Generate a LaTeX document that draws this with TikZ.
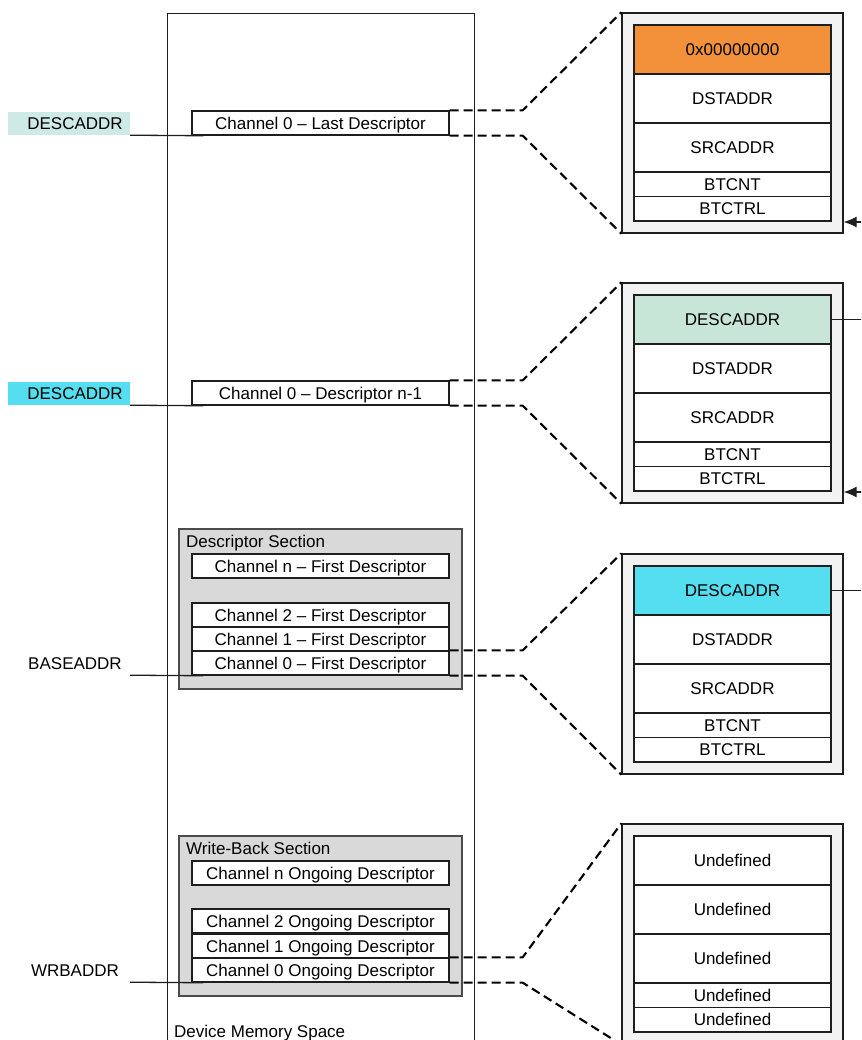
\documentclass[tikz,border=0pt]{standalone}
\usepackage{fontspec}
\setmainfont{Liberation Sans}
\usetikzlibrary{arrows.meta}
\definecolor{orng}{RGB}{242,145,57}
\definecolor{pgreen}{RGB}{200,230,216}
\definecolor{pteal}{RGB}{205,234,230}
\definecolor{cyn}{RGB}{85,222,240}
\definecolor{outerg}{RGB}{242,242,242}
\definecolor{sectg}{RGB}{217,217,217}
\definecolor{lnc}{RGB}{30,30,30}
\newcommand\memblk[8]{%
  \node[outerbox] (#1o) at (732.5,#2+98) {};
  \node[cell,fill=#3,minimum height=49pt] (#1a) at (732.5,#2+24.5) {#4};
  \node[cell,minimum height=49pt] (#1b) at (732.5,#2+73.5) {#5};
  \node[cell,minimum height=49pt] (#1c) at (732.5,#2+122.5) {#6};
  \node[cell,minimum height=24.5pt] (#1d) at (732.5,#2+159.25) {#7};
  \node[cell,minimum height=24.5pt] (#1e) at (732.5,#2+183.75) {#8};
}
\begin{document}
\begin{tikzpicture}[x=1pt,y=-1pt,
  every node/.style={font=\fontsize{17}{20}\selectfont, inner sep=0pt, text=black, text height=12.2pt, text depth=0pt},
  chan/.style={draw=lnc, line width=1.3pt, fill=white, minimum width=257pt, minimum height=24pt},
  sect/.style={draw=lnc!80, line width=1.3pt, fill=sectg, minimum width=283pt, minimum height=160pt},
  outerbox/.style={draw=lnc, line width=1.3pt, fill=outerg, minimum width=221pt, minimum height=220pt},
  cell/.style={draw=lnc, line width=1.3pt, fill=white, minimum width=197pt},
  lbl/.style={minimum width=122pt, minimum height=23pt},
  dsh/.style={line width=2.1pt, dash pattern=on 9pt off 5pt, black},
  thin/.style={draw=lnc, line width=1.3pt},
  arr/.style={thin, -{Latex[length=13pt,width=11pt]}}
]
\useasboundingbox (0,0) rectangle (861,1040);
\clip (0,0) rectangle (861,1040);
\fill[white] (0,0) rectangle (861,1040);

% device memory space
\node[draw=lnc, line width=1.3pt, minimum width=307pt, minimum height=1060pt, anchor=north west] (dev) at (167,13) {};
\node[anchor=west] (devt) at (174,1031) {Device Memory Space};

% left channel boxes
\node[chan] (last) at (320.5,123) {Channel 0 -- Last Descriptor};
\node[chan] (nm1) at (320.5,393) {Channel 0 -- Descriptor n-1};

\node[sect] (ds) at (320.5,609) {};
\node[anchor=west] (dst) at (186,541) {Descriptor Section};
\node[chan] (fn) at (320.5,566) {Channel n -- First Descriptor};
\node[chan] (f2) at (320.5,615) {Channel 2 -- First Descriptor};
\node[chan] (f1) at (320.5,639) {Channel 1 -- First Descriptor};
\node[chan] (f0) at (320.5,663) {Channel 0 -- First Descriptor};

\node[sect] (ws) at (320.5,916) {};
\node[anchor=west] (wst) at (186,848) {Write-Back Section};
\node[chan] (on) at (320.5,873) {Channel n Ongoing Descriptor};
\node[chan] (o2) at (320.5,921) {Channel 2 Ongoing Descriptor};
\node[chan] (o1) at (320.5,946) {Channel 1 Ongoing Descriptor};
\node[chan] (o0) at (320.5,970) {Channel 0 Ongoing Descriptor};

% left labels
\node[lbl, fill=pteal] (la1) at (69,123.5) {\hspace*{12pt}DESCADDR};
\node[lbl, fill=cyn] (la2) at (69,393.5) {\hspace*{12pt}DESCADDR};
\node[lbl] (la3) at (69,663.5) {\hspace*{12pt}BASEADDR};
\node[lbl] (la4) at (69,970.5) {\hspace*{12pt}WRBADDR};

\draw[thin] (la1.south east) -- (last.south west) -- ++(12,0);
\draw[thin] (la2.south east) -- (nm1.south west) -- ++(12,0);
\draw[thin] (la3.south east) -- (f0.south west) -- ++(12,0);
\draw[thin] (la4.south east) -- (o0.south west) -- ++(12,0);

% right memory blocks
\memblk{ma}{25}{orng}{0x00000000}{DSTADDR}{SRCADDR}{BTCNT}{BTCTRL}
\memblk{mb}{295}{pgreen}{DESCADDR}{DSTADDR}{SRCADDR}{BTCNT}{BTCTRL}
\memblk{mc}{566}{cyn}{DESCADDR}{DSTADDR}{SRCADDR}{BTCNT}{BTCTRL}
\memblk{md}{836}{white}{Undefined}{Undefined}{Undefined}{Undefined}{Undefined}

% dashed connectors
\draw[dsh] (last.north east) -- ++(73,0) -- (mao.north west);
\draw[dsh] (last.south east) -- ++(73,0) -- (mao.south west);
\draw[dsh] (nm1.north east) -- ++(73,0) -- (mbo.north west);
\draw[dsh] (nm1.south east) -- ++(73,0) -- (mbo.south west);
\draw[dsh] (f0.north east) -- ++(73,0) -- (mco.north west);
\draw[dsh] (f0.south east) -- ++(73,0) -- (mco.south west);
\draw[dsh] (o0.north east) -- ++(73,0) -- (mdo.north west);
\draw[dsh] (o0.south east) -- ++(73,0) -- (mdo.south west);

% links leaving the picture on the right
\coordinate (ina) at (875,222);
\coordinate (inb) at (875,492);
\draw[arr] (ina) -- (ina -| mao.east);
\draw[arr] (inb) -- (inb -| mbo.east);
\draw[thin] (mba.east) -- ++(50,0);
\draw[thin] (mca.east) -- ++(50,0);
\end{tikzpicture}
\end{document}
